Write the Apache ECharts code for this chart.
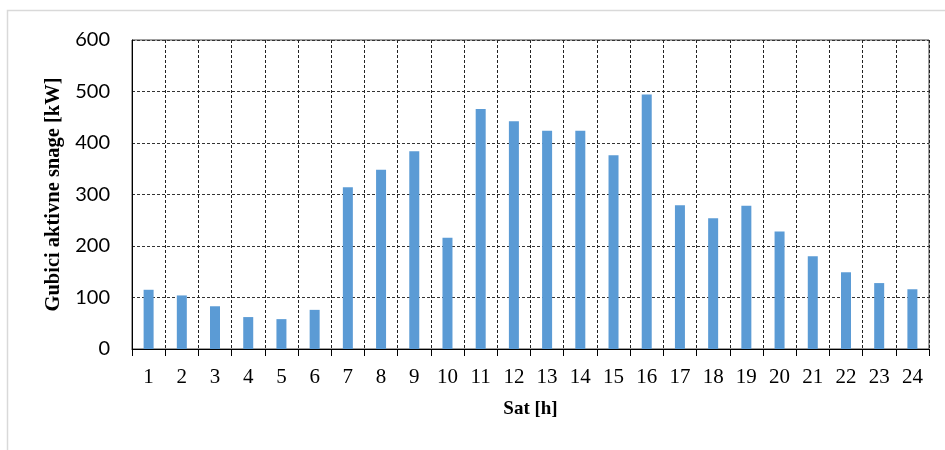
<!DOCTYPE html>
<html><head><meta charset="utf-8">
<script src="https://cdn.jsdelivr.net/npm/echarts@6/dist/echarts.min.js"></script>
<style>html,body{margin:0;padding:0;background:#fff;}#c{width:945px;height:450px;}</style>
</head><body><div id="c"></div>
<script>
const hours = ['1','2','3','4','5','6','7','8','9','10','11','12','13','14','15','16','17','18','19','20','21','22','23','24'];
const losses = [115, 104, 83, 62, 58, 76, 314, 348, 384, 216, 466, 442, 424, 424, 376, 494, 279, 254, 278, 228, 180, 149, 128, 116];
const yTicks = {min: 0, max: 600, interval: 100};
const yTitle = 'Gubici aktivne snage [kW]';
const xTitle = 'Sat [h]';

const chart = echarts.init(document.getElementById('c'), null, {renderer: 'canvas'});
chart.setOption({
  animation: false,
  backgroundColor: '#fff',
  graphic: [{type: 'rect', shape: {x: 7.5, y: 10.5, width: 960, height: 460}, style: {fill: 'none', stroke: '#d9d9d9', lineWidth: 1.5}, silent: true}],
  grid: {left: 132, right: 16, top: 40, bottom: 101, show: true, borderColor: '#404040', borderWidth: 1, backgroundColor: 'transparent'},
  xAxis: {
    type: 'category', data: hours,
    name: xTitle, nameLocation: 'middle', nameGap: 51,
    nameTextStyle: {fontFamily: 'Liberation Serif', fontWeight: 'bold', fontSize: 19, color: '#000'},
    axisLine: {lineStyle: {color: '#000', width: 1}},
    axisTick: {show: true, length: 7, lineStyle: {color: '#000'}},
    axisLabel: {fontFamily: 'Liberation Serif', fontSize: 21, color: '#000', margin: 18, interval: 0},
    splitLine: {show: true, interval: 0, lineStyle: {type: [3, 2], color: '#222', width: 1}}
  },
  yAxis: {
    type: 'value', min: yTicks.min, max: yTicks.max, interval: yTicks.interval,
    name: yTitle, nameLocation: 'middle', nameGap: 68,
    nameTextStyle: {fontFamily: 'Liberation Serif', fontWeight: 'bold', fontSize: 20.5, color: '#000'},
    axisLine: {show: true, lineStyle: {color: '#000', width: 1}},
    axisTick: {show: false},
    axisLabel: {fontFamily: 'Lato', fontSize: 20, color: '#000', margin: 22},
    splitLine: {show: true, lineStyle: {type: [3, 2], color: '#333', width: 1}}
  },
  series: [{type: 'bar', data: losses, barWidth: 10, itemStyle: {color: '#5b9bd5'}}]
});
</script></body></html>
